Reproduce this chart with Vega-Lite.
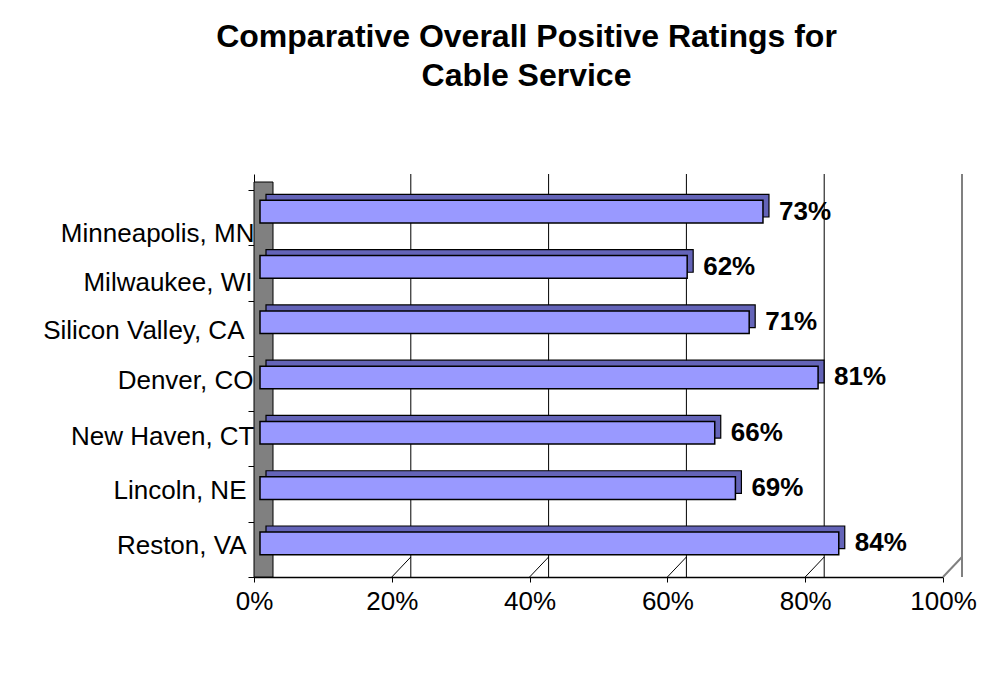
{
  "$schema": "https://vega.github.io/schema/vega-lite/v6.json",
  "width": 689,
  "height": 403,
  "autosize": {"type": "none"},
  "padding": {"left": 254, "top": 174, "right": 39, "bottom": 112},
  "background": "white",
  "config": {
    "view": {"stroke": null},
    "font": "Liberation Sans"
  },
  "title": {
    "text": ["Comparative Overall Positive Ratings for", "Cable Service"],
    "font": "Liberation Sans",
    "fontSize": 32,
    "fontWeight": "bold",
    "lineHeight": 39,
    "color": "#000000",
    "anchor": "middle",
    "dx": -72,
    "offset": 68
  },
  "datasets": {
    "ratings": [
      {"city": "Minneapolis, MN", "rating": 0.73},
      {"city": "Milwaukee, WI", "rating": 0.62},
      {"city": "Silicon Valley, CA", "rating": 0.71},
      {"city": "Denver, CO", "rating": 0.81},
      {"city": "New Haven, CT", "rating": 0.66},
      {"city": "Lincoln, NE", "rating": 0.69},
      {"city": "Reston, VA", "rating": 0.84}
    ],
    "ticks": [
      {"v": 0}, {"v": 0.2}, {"v": 0.4}, {"v": 0.6}, {"v": 0.8}, {"v": 1.0}
    ]
  },
  "layer": [
    {
      "data": {"name": "ticks"},
      "transform": [{"filter": "datum.v > 0"}],
      "mark": {"type": "rule", "xOffset": 19, "y2Offset": -20},
      "encoding": {
        "x": {"field": "v", "type": "quantitative", "scale": {"domain": [0, 1], "nice": false, "zero": true},
          "axis": {"values": [0, 0.2, 0.4, 0.6, 0.8, 1], "format": ".0%", "grid": false,
            "labelFlush": false, "labelOverlap": false,
            "domainColor": "#000000", "domainWidth": 1.5, "tickColor": "#000000", "tickSize": 5, "tickWidth": 1,
            "labelFontSize": 26, "labelColor": "#000000", "labelPadding": 6, "labelFont": "Liberation Sans", "title": null}},
        "color": {"condition": {"test": "datum.v == 1", "value": "#808080"}, "value": "#000000"},
        "strokeWidth": {"condition": {"test": "datum.v == 1", "value": 2}, "value": 1}
      }
    },
    {
      "data": {"name": "ticks"},
      "transform": [{"filter": "datum.v > 0"}],
      "mark": {"type": "rule", "x2Offset": 19, "y2Offset": -20},
      "encoding": {
        "x": {"field": "v", "type": "quantitative"},
        "x2": {"field": "v"},
        "y": {"value": "height"},
        "y2": {"value": "height"},
        "color": {"condition": {"test": "datum.v == 1", "value": "#808080"}, "value": "#000000"},
        "strokeWidth": {"condition": {"test": "datum.v == 1", "value": 2}, "value": 1}
      }
    },
    {
      "data": {"name": "ticks"},
      "transform": [{"filter": "datum.v == 0"}],
      "mark": {"type": "rect", "fill": "#808080", "stroke": "#000000", "strokeWidth": 1, "x2Offset": 19, "yOffset": 8, "y2Offset": -10},
      "encoding": {
        "x": {"field": "v", "type": "quantitative"},
        "x2": {"field": "v"}
      }
    },
    {
      "data": {"name": "ratings"},
      "mark": {"type": "bar", "height": {"band": 0.41}, "xOffset": 12, "x2Offset": 12, "yOffset": -12, "fill": "#6464B8", "stroke": "#000000", "strokeWidth": 1.2},
      "encoding": {
        "y": {"field": "city", "type": "nominal", "sort": null},
        "x": {"field": "rating", "type": "quantitative"}
      }
    },
    {
      "data": {"name": "ratings"},
      "mark": {"type": "bar", "height": {"band": 0.41}, "xOffset": 6, "x2Offset": 6, "yOffset": -6, "fill": "#9999FF", "stroke": "#000000", "strokeWidth": 1.5},
      "encoding": {
        "y": {"field": "city", "type": "nominal", "sort": null,
          "scale": {"paddingInner": 0, "paddingOuter": 0.1447, "align": 1},
          "axis": {"title": null, "tickBand": "extent", "tickExtra": true, "domainColor": "#000000", "tickColor": "#000000",
            "tickSize": 6, "labelFontSize": 26, "labelColor": "#000000", "labelFont": "Liberation Sans", "labelLimit": 400,
            "labelOffset": {"condition": [
              {"test": "datum.value == 'Minneapolis, MN'", "value": 16},
              {"test": "datum.value == 'Milwaukee, WI'", "value": 10},
              {"test": "datum.value == 'Silicon Valley, CA'", "value": 2},
              {"test": "datum.value == 'Denver, CO'", "value": -3},
              {"test": "datum.value == 'New Haven, CT'", "value": -2}
            ], "value": -4},
            "labelPadding": {"condition": [
              {"test": "datum.value == 'Minneapolis, MN'", "value": -6},
              {"test": "datum.value == 'Milwaukee, WI'", "value": -4},
              {"test": "datum.value == 'Silicon Valley, CA'", "value": 4},
              {"test": "datum.value == 'Denver, CO'", "value": -5},
              {"test": "datum.value == 'New Haven, CT'", "value": -6}
            ], "value": 2}}},
        "x": {"field": "rating", "type": "quantitative"}
      }
    },
    {
      "data": {"name": "ratings"},
      "mark": {"type": "text", "align": "left", "baseline": "middle", "dx": 22, "yOffset": -6, "fontSize": 26, "fontWeight": "bold", "color": "#000000", "font": "Liberation Sans"},
      "encoding": {
        "y": {"field": "city", "type": "nominal", "sort": null},
        "x": {"field": "rating", "type": "quantitative"},
        "text": {"field": "rating", "type": "quantitative", "format": ".0%"}
      }
    }
  ]
}
